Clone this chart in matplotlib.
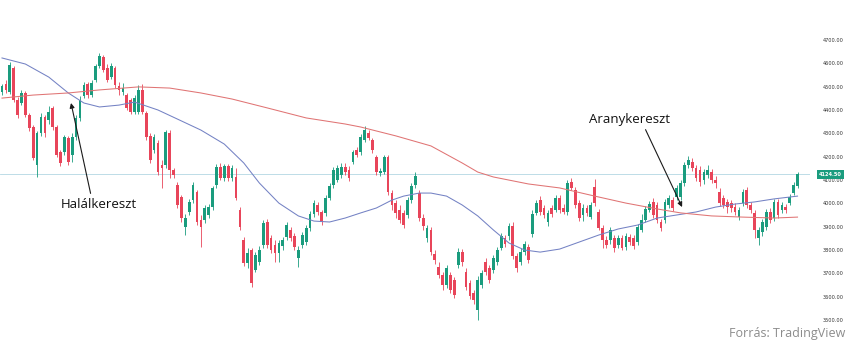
import numpy as np
import matplotlib.pyplot as plt

# daily candles (index = trading day)
opens = [4477,4511,4477,4580,4443,4430,4473,4379,4327,4164,
         4301,4370,4357,4409,4327,4220,4220,4280,4207,4284,
         4366,4460,4511,4464,4529,4589,4627,4580,4541,4580,
         4503,4477,4464,4443,4391,4391,4486,4387,4289,4229,
         4259,4164,4164,4301,4143,4079,4027,3899,3963,4014,
         4049,3929,3929,3950,3984,4079,4156,4109,4160,4109,
         4113,3971,3843,3744,3800,3714,3749,3821,3920,3851,
         3821,3787,3817,3856,3886,3860,3766,3821,3834,3894,
         3954,3993,3963,3959,4023,4079,4100,4121,4156,4143,
         4177,4229,4220,4271,4301,4271,4199,4130,4134,4199,
         4044,4001,3971,3959,3950,4014,4079,4044,3937,3851,
         3886,3783,3727,3693,3650,3693,3671,3736,3791,3706,
         3659,3616,3543,3650,3749,3723,3714,3749,3809,3851,
         3860,3903,3774,3749,3791,3813,3869,3959,4014,3980,
         3920,3980,3971,4023,3980,3963,4091,4057,4001,3950,
         3980,3941,4070,3963,3894,3843,3843,3851,3821,3851,
         3813,3856,3851,3834,3886,3929,3971,4006,3993,3920,
         3929,3993,4014,4027,4027,4087,4164,4177,4151,4143,
         4100,4121,4134,4100,4049,4023,4006,4001,3984,3941,
         4001,4057,3993,3959,3851,3877,3899,3963,3937,4006,
         3971,3984,4001,4044,4074]
closes = [4503,4486,4593,4443,4379,4473,4379,4323,4194,4301,
          4370,4301,4391,4327,4207,4173,4284,4177,4284,4366,
          4443,4507,4464,4516,4589,4631,4571,4529,4589,4507,
          4486,4494,4409,4391,4451,4486,4391,4284,4186,4284,
          4134,4151,4306,4143,4121,3993,3937,3937,4006,4079,
          3920,3899,3980,3984,4066,4156,4109,4160,4109,4151,
          4023,3899,3744,3787,3659,3779,3800,3916,3821,3800,
          3787,3830,3843,3907,3851,3813,3800,3864,3894,3954,
          4001,3963,3920,4023,4074,4143,4151,4156,4134,4109,
          4220,4207,4284,4314,4280,4229,4134,4139,4199,4049,
          3993,3959,3929,3907,4014,4074,4117,3937,3903,3894,
          3791,3757,3693,3650,3723,3629,3607,3791,3749,3641,
          3603,3586,3671,3701,3706,3671,3766,3800,3860,3826,
          3903,3774,3723,3791,3826,3757,3954,4001,3963,3950,
          3959,3954,4023,3971,3963,4087,4066,3993,3937,3980,
          3959,3993,4001,3894,3843,3821,3886,3809,3851,3809,
          3860,3834,3817,3899,3929,3976,3997,3950,3929,3894,
          4006,4023,3980,4066,4087,4164,4186,4151,4109,4091,
          4134,4143,4100,4087,4001,3993,3984,3980,3963,3971,
          4049,3993,3971,3886,3886,3920,3963,3929,4006,3950,
          3993,3971,4027,4079,4124.5]
highs = [4511,4529,4606,4589,4456,4486,4481,4387,4336,4310,
         4387,4379,4417,4417,4336,4229,4293,4289,4301,4379,
         4460,4520,4520,4529,4597,4644,4636,4597,4601,4589,
         4520,4516,4473,4451,4464,4507,4511,4396,4301,4297,
         4271,4186,4314,4314,4151,4091,4036,3954,4019,4091,
         4057,3950,3993,3997,4074,4169,4173,4169,4169,4164,
         4151,3984,3856,3809,3809,3791,3817,3929,3933,3864,
         3843,3843,3856,3920,3899,3873,3817,3877,3907,3967,
         4014,4006,3971,4036,4087,4156,4164,4173,4173,4160,
         4229,4241,4297,4331,4314,4280,4207,4151,4207,4207,
         4057,4014,3993,3971,4027,4087,4134,4057,3954,3907,
         3899,3800,3749,3706,3736,3706,3684,3809,3804,3723,
         3671,3629,3689,3714,3766,3736,3779,3813,3873,3864,
         3916,3920,3787,3809,3839,3826,3971,4014,4031,3993,
         3971,3993,4036,4036,3997,4100,4109,4070,4014,3997,
         3993,4006,4104,3976,3907,3860,3899,3864,3864,3864,
         3873,3869,3864,3911,3954,3989,4010,4023,4006,3933,
         4019,4036,4027,4079,4100,4177,4203,4194,4164,4160,
         4147,4164,4147,4117,4066,4036,4019,4014,4001,3984,
         4061,4070,4006,3971,3899,3933,3976,3980,4019,4019,
         4006,3997,4040,4091,4134]
lows = [4464,4473,4469,4434,4366,4421,4370,4310,4186,4113,
        4289,4284,4340,4314,4199,4160,4207,4164,4177,4271,
        4353,4451,4451,4456,4520,4580,4563,4520,4533,4494,
        4464,4464,4400,4383,4383,4383,4383,4271,4173,4216,
        4121,4066,4151,4109,4109,3980,3920,3864,3950,4001,
        3907,3813,3916,3937,3971,4066,4100,4096,4096,4096,
        4014,3886,3731,3723,3641,3706,3736,3809,3809,3787,
        3749,3749,3800,3843,3839,3800,3727,3809,3821,3881,
        3941,3950,3907,3946,4014,4066,4091,4109,4121,4096,
        4169,4199,4207,4263,4271,4216,4121,4117,4126,4036,
        3971,3937,3916,3894,3937,4001,4066,3924,3886,3834,
        3779,3740,3680,3629,3637,3616,3594,3723,3731,3629,
        3590,3569,3500,3637,3693,3659,3701,3736,3800,3813,
        3843,3761,3706,3736,3779,3744,3856,3950,3950,3937,
        3903,3941,3963,3959,3954,3950,4057,3980,3924,3924,
        3946,3933,3989,3886,3809,3809,3826,3791,3809,3800,
        3800,3821,3804,3821,3877,3920,3963,3937,3916,3881,
        3916,3980,3967,4014,4014,4074,4151,4139,4096,4074,
        4083,4109,4087,4066,3989,3980,3959,3963,3950,3929,
        3989,3980,3959,3851,3821,3860,3886,3916,3924,3937,
        3959,3959,3993,4036,4066]

# moving averages, read at a few days each
ma50_idx = [0,6,12,17,21,25,30,34,37,40,45,51,57,62,66,71,76,80,84,88,92,96,100,103,107,
            110,114,118,122,126,130,134,138,143,148,153,158,163,168,173,178,183,188,193,198,204]
ma50_val = [4623,4597,4541,4473,4430,4413,4421,4434,4417,4400,4361,4314,4254,4173,4087,4001,
            3946,3924,3920,3937,3959,3980,4014,4031,4044,4044,4031,3993,3946,3886,3830,3800,
            3791,3804,3834,3864,3890,3907,3937,3950,3963,3984,3997,4006,4019,4031]
ma200_idx = [0,8,17,25,35,43,51,59,68,78,88,92,101,110,118,122,126,135,143,152,160,168,174,
             182,190,198,204]
ma200_val = [4451,4464,4473,4486,4499,4494,4473,4447,4409,4366,4340,4327,4289,4246,4173,4134,
             4113,4083,4066,4031,4001,3976,3959,3946,3941,3937,3941]

last_price = 4124.5
yticks = list(range(3500, 4701, 100))

green = '#1a9c7e'
red = '#e8455a'

fig = plt.figure(figsize=(8.5, 3.6), dpi=100)
ax = fig.add_axes([0, 0, 810/850, 1])

o = np.array(opens, float)
c = np.array(closes, float)
h = np.array(highs, float)
l = np.array(lows, float)
x = np.arange(len(o))
up = c >= o
cols = np.where(up, green, red)

ax.vlines(x, l, h, colors=cols, lw=0.6, zorder=2)
ax.bar(x, np.abs(c - o), bottom=np.minimum(o, c), width=0.7, color=cols, lw=0, zorder=3)

ax.plot(ma50_idx, ma50_val, color='#7482c4', lw=0.75, zorder=4)
ax.plot(ma200_idx, ma200_val, color='#e07474', lw=0.75, zorder=4)

ax.axhline(last_price, color='#b3d7e3', lw=0.6, zorder=1)

ax.set_xlim(-0.51, 207.2)
ax.set_ylim(3328.6, 4871.4)
for s in ax.spines.values():
    s.set_visible(False)
ax.set_xticks([])
ax.yaxis.tick_right()
ax.set_yticks(yticks)
ax.set_yticklabels([f'{v:.2f}' for v in yticks])
ax.tick_params(axis='y', length=0, pad=9.4, labelsize=3.6, labelcolor='#333333')

ax.text(1.011, last_price, f'{last_price:.2f}', transform=ax.get_yaxis_transform(),
        ha='left', va='center', fontsize=3.6, color='white', fontweight='bold', zorder=6,
        clip_on=False,
        bbox=dict(boxstyle='square,pad=0.35', fc=green, ec='none'))

arrow = dict(arrowstyle='-|>', color='#1a1a1a', lw=0.8, mutation_scale=7, shrinkA=1, shrinkB=0)
ax.annotate('Halálkereszt', xy=(17.7, 4430), xytext=(24.9, 3997),
            ha='center', va='center', fontsize=9.5, family='Open Sans', color='#111111',
            arrowprops=dict(arrow, relpos=(0.4, 1.0)), zorder=7)
ax.annotate('Aranykereszt', xy=(174.4, 3984), xytext=(160.8, 4361),
            ha='center', va='center', fontsize=9.5, family='Open Sans', color='#111111',
            arrowprops=dict(arrow, relpos=(0.68, 0.0)), zorder=7)

fig.text(845/850, 1 - 334/360, 'Forrás: TradingView', ha='right', va='center',
         fontsize=9, family='Open Sans', color='#8c8c8c')

fig.savefig('out.png', dpi=100)
